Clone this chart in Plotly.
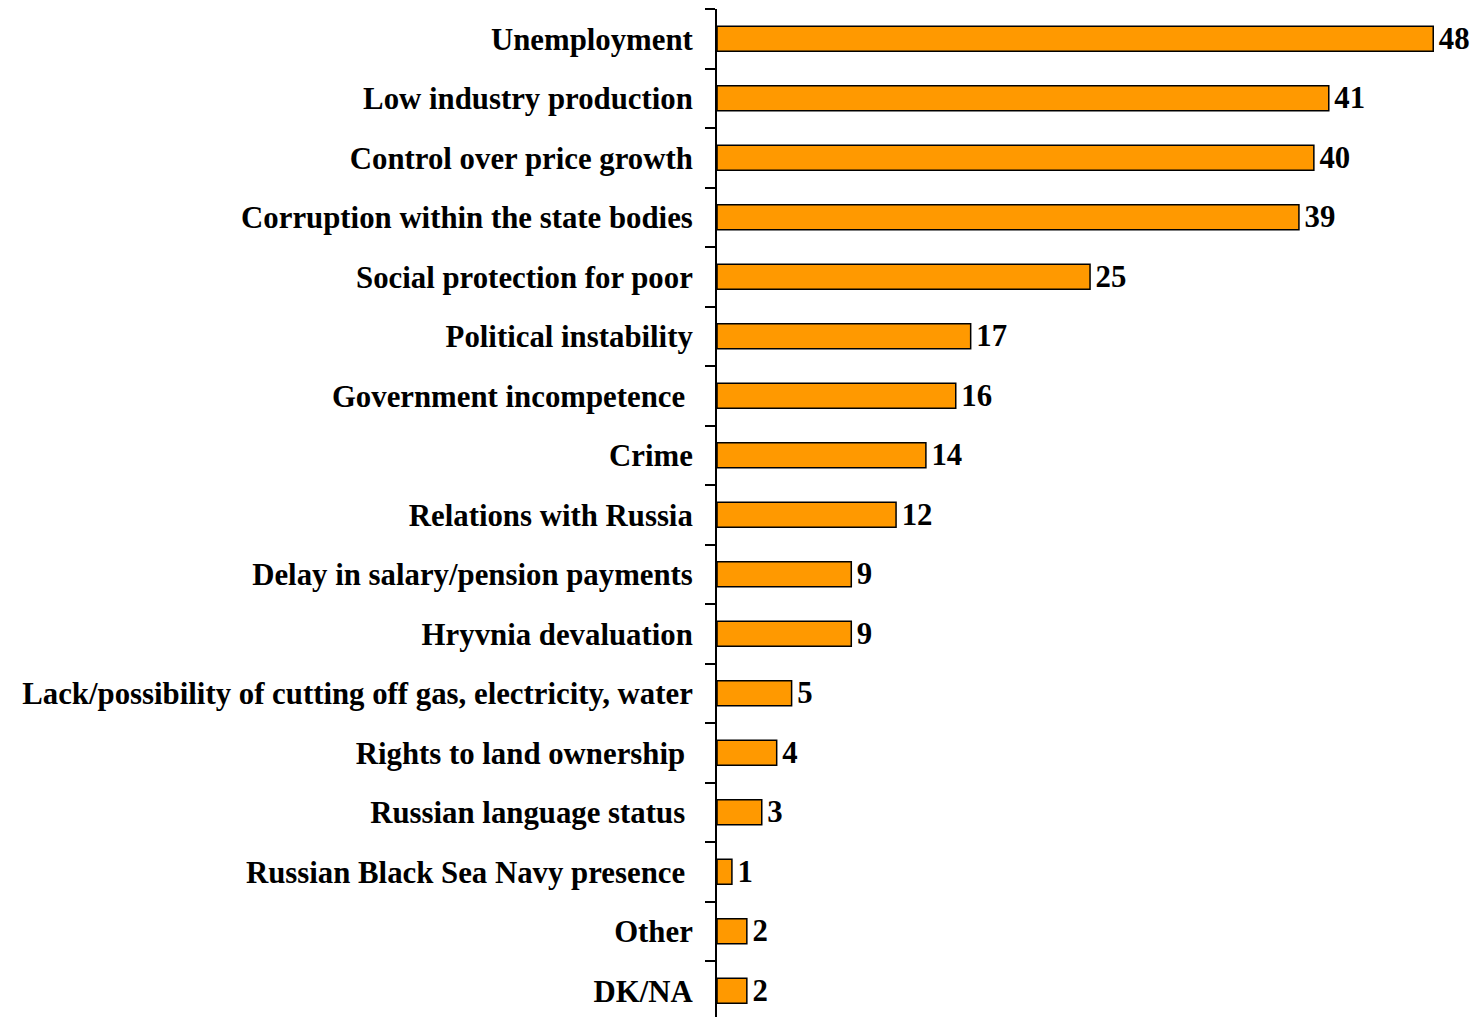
import plotly.graph_objects as go

categories = [
    "Unemployment",
    "Low industry production",
    "Control over price growth",
    "Corruption within the state bodies",
    "Social protection for poor",
    "Political instability",
    "Government incompetence ",
    "Crime",
    "Relations with Russia",
    "Delay in salary/pension payments",
    "Hryvnia devaluation",
    "Lack/possibility of cutting off gas, electricity, water",
    "Rights to land ownership ",
    "Russian language status ",
    "Russian Black Sea Navy presence ",
    "Other",
    "DK/NA",
]
values = [48, 41, 40, 39, 25, 17, 16, 14, 12, 9, 9, 5, 4, 3, 1, 2, 2]

font_family = "Liberation Serif, Times New Roman, serif"
FS = 30.8

fig = go.Figure(
    go.Bar(
        x=values,
        y=categories,
        orientation="h",
        marker=dict(color="#FF9900", line=dict(color="black", width=1.5)),
        text=["\u200a" + str(v) for v in values],
        textposition="outside",
        constraintext="none",
        textfont=dict(family=font_family, size=FS, color="black", weight="bold"),
        cliponaxis=False,
    )
)

fig.update_layout(
    width=1478,
    height=1017,
    margin=dict(l=717, r=0, t=9, b=0),
    paper_bgcolor="white",
    plot_bgcolor="white",
    bargap=0.58,
    showlegend=False,
    font=dict(family=font_family, color="black"),
)

fig.update_xaxes(
    range=[0, 51],
    visible=False,
    showgrid=False,
    zeroline=False,
)

fig.update_yaxes(
    type="category",
    categoryorder="array",
    categoryarray=categories,
    range=[16.44, -0.5],
    showline=True,
    linecolor="black",
    linewidth=2,
    ticks="outside",
    tickson="boundaries",
    ticklen=10,
    tickwidth=2,
    tickcolor="black",
    showgrid=False,
    zeroline=False,
    ticklabelstandoff=16,
    tickfont=dict(family=font_family, size=FS, color="black", weight="bold"),
)

fig.write_html(
    "out.html",
    config={"displayModeBar": False},
    post_script="document.body.style.margin='0';document.body.style.overflow='hidden';",
)
